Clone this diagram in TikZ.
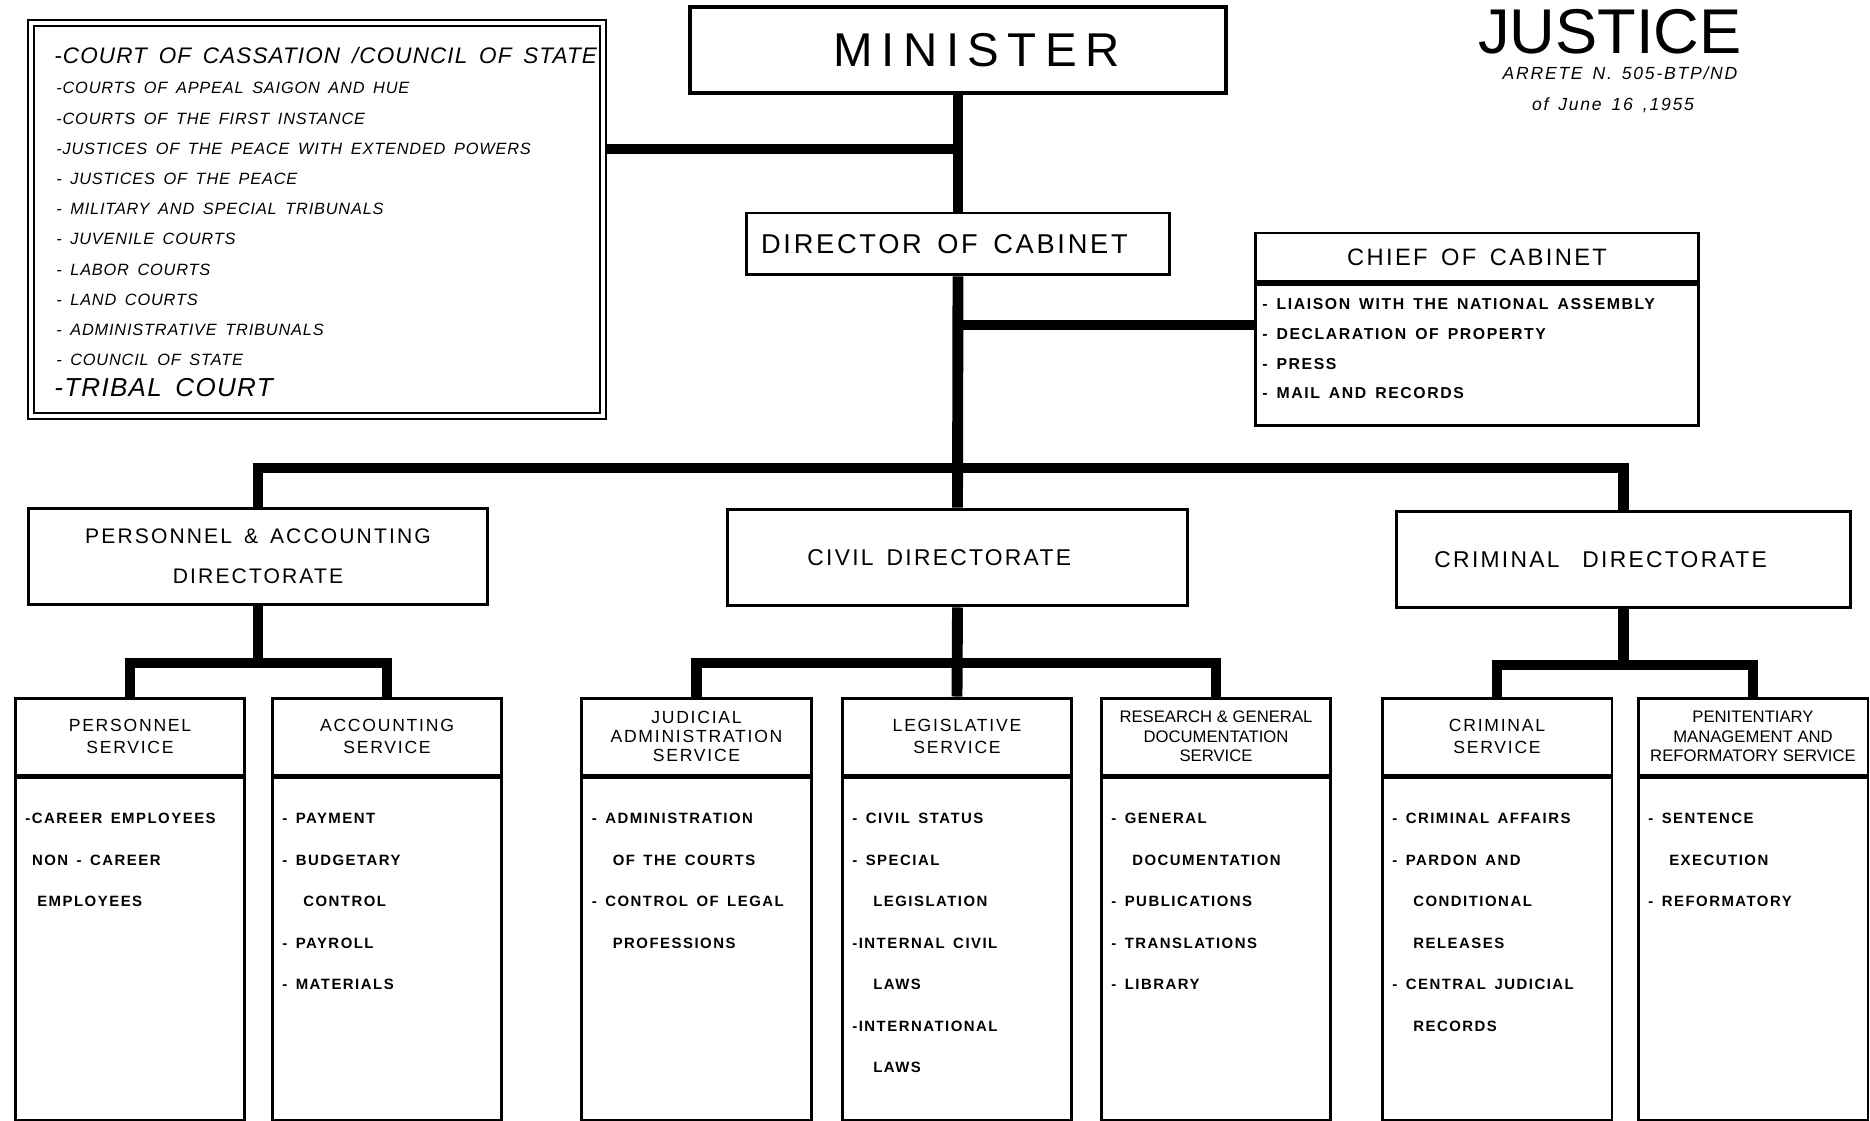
\documentclass[tikz,border=0pt]{standalone}
\usepackage{fontspec}
\setmainfont{Liberation Sans}
\newfontfamily\lett[LetterSpace=10,WordSpace=1.5]{Liberation Sans}
\newfontfamily\courtlett[LetterSpace=5,WordSpace=1.6]{Liberation Sans}
\usetikzlibrary{positioning}
\newcommand{\contline}{\hspace*{1.4em}}
\newcommand{\headtwo}{\lett\fontsize{10}{13}\selectfont}
\newcommand{\headthree}{\lett\fontsize{10}{11}\selectfont}
\newcommand{\narrowhead}{\normalfont\fontsize{9.5}{11}\selectfont}

\tikzset{
  box/.style={draw, line width=1.7pt, inner sep=2pt},
  conn/.style={draw, line width=6.2pt},
  dirbox/.style={box, minimum width=9.2cm, minimum height=1.94cm, align=center,
    font=\lett\fontsize{12}{22.7}\selectfont},
  svchead/.style={box, minimum width=4.6cm, minimum height=1.54cm, align=center, inner sep=0pt},
  svcbody/.style={box, minimum width=4.6cm, minimum height=6.86cm},
  svcitems/.style={anchor=north west, inner sep=0pt, align=left,
    font=\lett\bfseries\fontsize{8.5}{23.6}\selectfont},
  courtline/.style={anchor=base west, inner sep=0pt,
    font=\courtlett\itshape\fontsize{9.3}{11}\selectfont},
}

\begin{document}
\begin{tikzpicture}[x=0.02cm, y=-0.02cm]
\useasboundingbox (0,0) rectangle (1870,1121);

% Top of the chart
\node[box, line width=2.2pt, minimum width=10.72cm, minimum height=1.72cm,
  font=\lett\fontsize{27}{30}\selectfont\addfontfeatures{LetterSpace=18}]
  (minister) at (958,50) {\hspace*{0.75cm}MINISTER};
\node[box, minimum width=8.46cm, minimum height=1.24cm,
  font=\lett\fontsize{15.5}{18}\selectfont] (dir) at (958,244) {DIRECTOR OF CABINET\hspace*{1em}};

\node[font=\fontsize{36}{40}\selectfont, anchor=base] (title) at (1610,54) {JUSTICE};
\node[font=\lett\itshape\fontsize{10}{12}\selectfont, anchor=base] (decree) at (1620,80) {ARRETE N. 505-BTP/ND};
\node[font=\lett\itshape\fontsize{10}{12}\selectfont, anchor=base] (date) at (1613,111) {of June 16 ,1955};

% Courts and tribunals
\node[draw, double, line width=1.13pt, double distance=2.27pt, outer sep=2.27pt,
  minimum width=11.44cm, minimum height=7.86cm] (courts) at (317,219.5) {};
\node[courtline, font=\courtlett\itshape\fontsize{12.8}{15}\selectfont] (court1) at (54,64)
  {-COURT OF CASSATION /COUNCIL OF STATE};
\foreach \txt [count=\i from 2] in {-COURTS OF APPEAL SAIGON AND HUE,
  -COURTS OF THE FIRST INSTANCE, -JUSTICES OF THE PEACE WITH EXTENDED POWERS,
  - JUSTICES OF THE PEACE, - MILITARY AND SPECIAL TRIBUNALS, - JUVENILE COURTS,
  - LABOR COURTS, - LAND COURTS, - ADMINISTRATIVE TRIBUNALS, - COUNCIL OF STATE}
  \node[courtline] (court\i) at (56,94+30.2*\i-60.4) {\txt};
\node[courtline, font=\courtlett\itshape\fontsize{14.8}{16}\selectfont] (court12) at (54,397)
  {-TRIBAL COURT};

% Chief of cabinet
\node[box, minimum width=8.88cm, minimum height=0.98cm,
  font=\lett\fontsize{13.5}{15}\selectfont] (chief) at (1477,257.5) {CHIEF OF CABINET};
\node[box, minimum width=8.88cm, minimum height=2.82cm, below=0pt of chief] (chiefbody) {};
\node[svcitems, font=\lett\bfseries\fontsize{9}{17}\selectfont] (chiefitems) at (1262,298)
  {- LIAISON WITH THE NATIONAL ASSEMBLY\\- DECLARATION OF PROPERTY\\- PRESS\\- MAIL AND RECORDS};

% Directorates
\node[dirbox] (pad) at (258,556.5) {PERSONNEL \& ACCOUNTING\\DIRECTORATE};
\node[dirbox, font=\lett\fontsize{13}{16}\selectfont] (civ) at (957.5,557.5)
  {CIVIL DIRECTORATE\hspace*{1.6em}};
\node[dirbox, minimum width=9.1cm, font=\lett\fontsize{13}{16}\selectfont] (crd) at (1623.5,559.5)
  {CRIMINAL\hspace{1em}DIRECTORATE\hspace*{2em}};

% Services
\foreach \n/\cx/\hf/\head/\items in {
  ps/130/\headtwo/{PERSONNEL\\SERVICE}/{-CAREER EMPLOYEES\\\hspace*{0.45em}NON - CAREER\\\hspace*{0.8em}EMPLOYEES},
  acs/387/\headtwo/{ACCOUNTING\\SERVICE}/{- PAYMENT\\- BUDGETARY\\\contline CONTROL\\- PAYROLL\\- MATERIALS},
  jas/696.5/\headthree/{JUDICIAL\\ADMINISTRATION\\SERVICE}/{- ADMINISTRATION\\\contline OF THE COURTS\\- CONTROL OF LEGAL\\\contline PROFESSIONS},
  ls/957/\headtwo/{LEGISLATIVE\\SERVICE}/{- CIVIL STATUS\\- SPECIAL\\\contline LEGISLATION\\-INTERNAL CIVIL\\\contline LAWS\\-INTERNATIONAL\\\contline LAWS},
  rds/1216/\narrowhead/{RESEARCH \& GENERAL\\DOCUMENTATION\\SERVICE}/{- GENERAL\\\contline DOCUMENTATION\\- PUBLICATIONS\\- TRANSLATIONS\\- LIBRARY},
  cs/1497/\headtwo/{CRIMINAL\\SERVICE}/{- CRIMINAL AFFAIRS\\- PARDON AND\\\contline CONDITIONAL\\\contline RELEASES\\- CENTRAL JUDICIAL\\\contline RECORDS},
  pms/1753/\narrowhead/{PENITENTIARY\\MANAGEMENT AND\\REFORMATORY SERVICE}/{- SENTENCE\\\contline EXECUTION\\- REFORMATORY}}
{
  \node[svchead, font=\hf] (\n) at (\cx,736.5) {\head};
  \node[svcbody, below=0pt of \n] (\n body) {};
  \node[svcitems] (\n items) at (\cx-105,813) {\items};
}

% Connectors
\coordinate (cj) at (958,149);
\coordinate (cc) at (958,325);
\coordinate (bus) at (958,468);
\coordinate (padbus) at (258,663);
\coordinate (civbus) at (958,663);
\coordinate (crbus) at (1623.5,665);

\draw[conn] (minister.south) -- (dir.north);
\draw[conn] (courts.east |- cj) -- (cj);
\draw[conn] (cc) -- (cc -| chiefbody.west);
\draw[conn] (dir.south) -- (civ.north);
\draw[conn] (pad.north) |- (bus) -| (crd.north);
\draw[conn] (pad.south) -- (padbus);
\draw[conn] (ps.north) |- (padbus) -| (acs.north);
\draw[conn] (civ.south) -- (ls.north);
\draw[conn] (jas.north) |- (civbus) -| (rds.north);
\draw[conn] (crd.south) -- (crbus);
\draw[conn] (cs.north) |- (crbus) -| (pms.north);
\end{tikzpicture}
\end{document}
